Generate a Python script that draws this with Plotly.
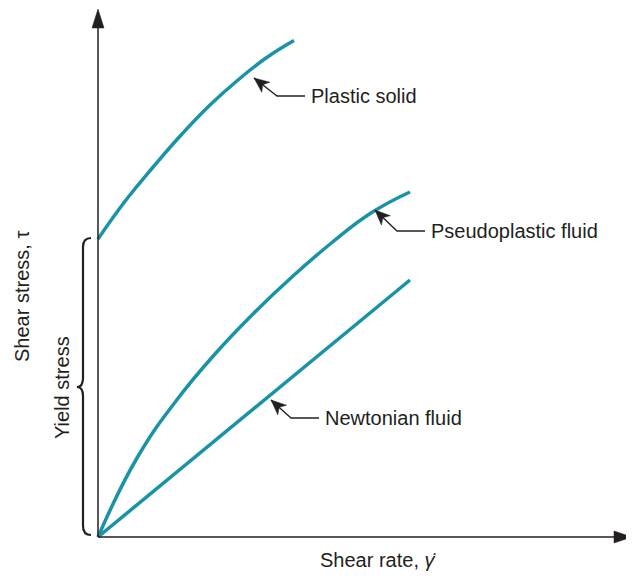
import plotly.graph_objects as go
import math

# Data (pixel-like units; origin at axis corner)
plastic_x = [0, 28, 56, 84, 112, 140, 168, 196]
plastic_y = [298, 337, 371, 403, 432, 457, 479, 496.5]
pseudo_x = [0, 39, 78, 117, 156, 195, 234, 273, 312]
pseudo_y = [0, 79, 136, 183, 224, 261, 294.5, 324, 345]
newton_x = [0, 312]
newton_y = [0, 257]

labels = ["Plastic solid", "Pseudoplastic fluid", "Newtonian fluid"]
# arrow tip, elbow, line end near text, text anchor
label_tips = [(156, 459), (277, 327), (173, 137)]
label_elbows = [(179, 441), (299, 306), (193, 119)]
label_ends = [(207, 441), (327, 306), (221, 119)]
label_text_pos = [(211, 441), (331, 306), (225, 119)]

TEAL = "#1a93a6"
INK = "#231f20"
FONT = "Liberation Sans, Arial, sans-serif"

fig = go.Figure()
for xs, ys in [(plastic_x, plastic_y), (pseudo_x, pseudo_y), (newton_x, newton_y)]:
    fig.add_trace(go.Scatter(x=xs, y=ys, mode="lines",
                             line=dict(color=TEAL, width=3.5, shape="spline", smoothing=1.3),
                             hoverinfo="skip", showlegend=False))

shapes = []

def arrowhead(tip, frm, length=15, half=6.5, notch=4):
    dx, dy = tip[0] - frm[0], tip[1] - frm[1]
    d = math.hypot(dx, dy)
    ux, uy = dx / d, dy / d
    px, py = -uy, ux
    bx, by = tip[0] - ux * length, tip[1] - uy * length
    nx, ny = tip[0] - ux * (length - notch), tip[1] - uy * (length - notch)
    p = (f"M {tip[0]},{tip[1]} L {bx + px*half},{by + py*half} "
         f"L {nx},{ny} L {bx - px*half},{by - py*half} Z")
    return dict(type="path", path=p, fillcolor=INK, line=dict(color=INK, width=0.5),
                xref="x", yref="y", layer="above")

# axes
shapes.append(dict(type="line", x0=0, y0=0, x1=0, y1=512, xref="x", yref="y",
                   line=dict(color=INK, width=1.5)))
shapes.append(dict(type="line", x0=0, y0=0, x1=520, y1=0, xref="x", yref="y",
                   line=dict(color=INK, width=1.5)))
shapes.append(arrowhead((0, 528), (0, 0), length=19, half=6, notch=0))
shapes.append(arrowhead((534, 0), (0, 0), length=18, half=6, notch=0))

# label leader lines
for tip, elb, end in zip(label_tips, label_elbows, label_ends):
    shapes.append(dict(type="path",
                       path=f"M {end[0]},{end[1]} L {elb[0]},{elb[1]} L {tip[0]},{tip[1]}",
                       line=dict(color=INK, width=1.3), xref="x", yref="y"))
    shapes.append(arrowhead(tip, elb))

# yield-stress brace
shapes.append(dict(type="path",
                   path="M -7,299 Q -15,299 -15,290 L -15,159 Q -15,150 -21,150 "
                        "Q -15,150 -15,141 L -15,11 Q -15,2 -7,2",
                   line=dict(color=INK, width=2.2), xref="x", yref="y"))

annotations = []
for txt, pos in zip(labels, label_text_pos):
    annotations.append(dict(x=pos[0], y=pos[1], text=txt, showarrow=False,
                            xanchor="left", yanchor="middle",
                            font=dict(family=FONT, size=20, color=INK)))
annotations.append(dict(x=280, y=-23, text="Shear rate, <i>γ̇</i>", showarrow=False,
                        xanchor="center", yanchor="middle",
                        font=dict(family=FONT, size=20, color=INK)))
annotations.append(dict(x=-76, y=240, text="Shear stress, τ", showarrow=False,
                        textangle=-90, xanchor="center", yanchor="middle",
                        font=dict(family=FONT, size=20, color=INK)))
annotations.append(dict(x=-36, y=149, text="Yield stress", showarrow=False,
                        textangle=-90, xanchor="center", yanchor="middle",
                        font=dict(family=FONT, size=20, color=INK)))

# page body has an 8px margin, so the figure is 8px smaller and ranges shifted
fig.update_layout(
    width=626, height=568,
    margin=dict(l=0, r=0, t=0, b=0),
    paper_bgcolor="white", plot_bgcolor="white",
    xaxis=dict(range=[-90, 536], visible=False, fixedrange=True),
    yaxis=dict(range=[-39, 529], visible=False, fixedrange=True),
    shapes=shapes, annotations=annotations, showlegend=False,
)
fig.write_html("out.html")
